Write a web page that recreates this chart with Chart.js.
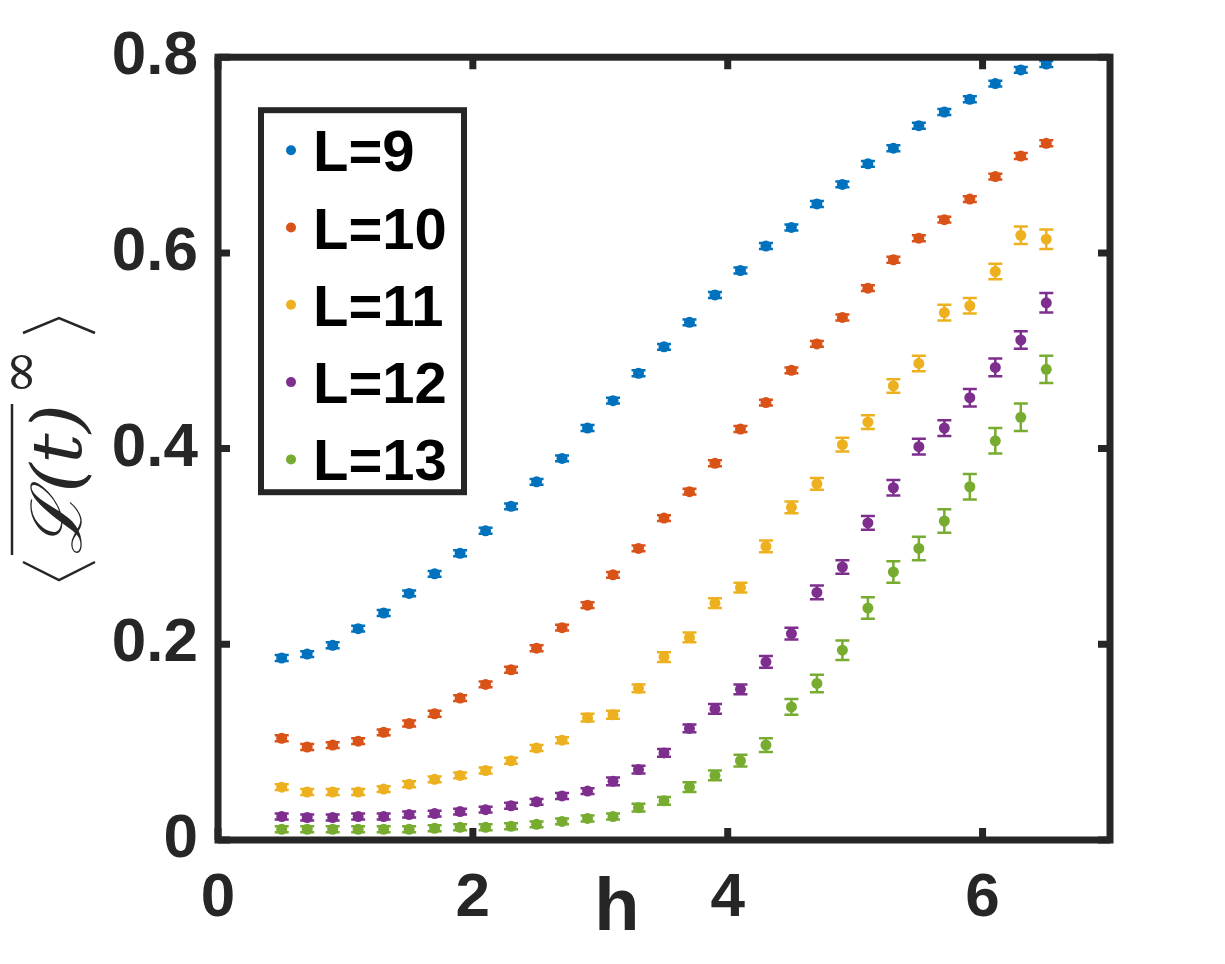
<!DOCTYPE html>
<html>
<head>
<meta charset="utf-8">
<script src="https://cdn.jsdelivr.net/npm/chart.js@4.4.1/dist/chart.umd.min.js"></script>
<style>
html, body { margin: 0; padding: 0; background: #fff; }
#wrap { width: 1225px; height: 964px; }
</style>
</head>
<body>
<div id="wrap"><canvas id="plot" width="1225" height="964"></canvas></div>
<script>
// h values (x axis)
const hValues = [0.5, 0.7, 0.9, 1.1, 1.3, 1.5, 1.7, 1.9, 2.1, 2.3, 2.5, 2.7, 2.9, 3.1, 3.3, 3.5,
                 3.7, 3.9, 4.1, 4.3, 4.5, 4.7, 4.9, 5.1, 5.3, 5.5, 5.7, 5.9, 6.1, 6.3, 6.5];

const seriesLabels = ["L=9", "L=10", "L=11", "L=12", "L=13"];
const seriesColors = ["#0072BD", "#D95319", "#EDB120", "#7E2F8E", "#77AC30"];

const valsL9  = [0.186, 0.190, 0.199, 0.216, 0.232, 0.252, 0.272, 0.293, 0.316, 0.341, 0.366, 0.390, 0.421, 0.449, 0.477, 0.504,
                 0.529, 0.557, 0.582, 0.607, 0.626, 0.650, 0.670, 0.691, 0.707, 0.730, 0.744, 0.757, 0.773, 0.787, 0.793];
const valsL10 = [0.104, 0.095, 0.097, 0.101, 0.110, 0.119, 0.129, 0.145, 0.159, 0.174, 0.196, 0.217, 0.240, 0.271, 0.298, 0.329,
                 0.356, 0.385, 0.420, 0.447, 0.480, 0.507, 0.534, 0.564, 0.593, 0.615, 0.634, 0.655, 0.678, 0.699, 0.712];
const valsL11 = [0.054, 0.049, 0.049, 0.049, 0.052, 0.057, 0.062, 0.066, 0.071, 0.081, 0.094, 0.102, 0.125, 0.128, 0.155, 0.187,
                 0.207, 0.242, 0.258, 0.300, 0.340, 0.364, 0.404, 0.427, 0.464, 0.487, 0.539, 0.546, 0.581, 0.618, 0.614];
const valsL12 = [0.024, 0.023, 0.023, 0.024, 0.024, 0.026, 0.027, 0.029, 0.031, 0.035, 0.039, 0.045, 0.050, 0.060, 0.072, 0.089,
                 0.114, 0.134, 0.154, 0.182, 0.211, 0.253, 0.279, 0.324, 0.360, 0.402, 0.421, 0.452, 0.483, 0.511, 0.549];
const valsL13 = [0.011, 0.011, 0.011, 0.011, 0.011, 0.011, 0.012, 0.013, 0.013, 0.014, 0.016, 0.019, 0.022, 0.024, 0.033, 0.040,
                 0.054, 0.066, 0.081, 0.097, 0.136, 0.160, 0.194, 0.237, 0.274, 0.298, 0.326, 0.361, 0.408, 0.432, 0.481];

// error bar half-heights
const errL9  = [0.003, 0.003, 0.003, 0.003, 0.003, 0.003, 0.003, 0.003, 0.003, 0.003, 0.003, 0.003, 0.003, 0.003, 0.003, 0.003,
                0.003, 0.003, 0.003, 0.003, 0.003, 0.003, 0.003, 0.003, 0.003, 0.003, 0.003, 0.003, 0.003, 0.003, 0.003];
const errL10 = [0.003, 0.003, 0.003, 0.003, 0.003, 0.003, 0.003, 0.003, 0.003, 0.003, 0.003, 0.003, 0.003, 0.003, 0.003, 0.003,
                0.003, 0.003, 0.003, 0.003, 0.003, 0.003, 0.003, 0.003, 0.003, 0.003, 0.003, 0.003, 0.003, 0.003, 0.003];
const errL11 = [0.003, 0.003, 0.003, 0.003, 0.003, 0.003, 0.003, 0.003, 0.003, 0.003, 0.003, 0.003, 0.004, 0.004, 0.004, 0.005,
                0.005, 0.005, 0.005, 0.006, 0.006, 0.006, 0.007, 0.007, 0.007, 0.008, 0.008, 0.008, 0.008, 0.009, 0.010];
const errL12 = [0.003, 0.003, 0.003, 0.003, 0.003, 0.003, 0.003, 0.003, 0.003, 0.003, 0.003, 0.003, 0.003, 0.004, 0.004, 0.004,
                0.004, 0.005, 0.005, 0.006, 0.006, 0.007, 0.007, 0.007, 0.008, 0.008, 0.008, 0.009, 0.009, 0.009, 0.010];
const errL13 = [0.003, 0.003, 0.003, 0.003, 0.003, 0.003, 0.003, 0.003, 0.003, 0.003, 0.003, 0.003, 0.003, 0.003, 0.004, 0.004,
                0.005, 0.005, 0.006, 0.007, 0.008, 0.009, 0.010, 0.011, 0.011, 0.012, 0.012, 0.013, 0.013, 0.014, 0.014];

const xTicks = [0, 2, 4, 6];
const yTicks = [0, 0.2, 0.4, 0.6, 0.8];

const seriesValues = [valsL9, valsL10, valsL11, valsL12, valsL13];
const seriesErrors = [errL9, errL10, errL11, errL12, errL13];

const axisColor = "#262626";
const sansFont = '"Liberation Sans", Arial, sans-serif';

const datasets = seriesLabels.map((lab, i) => ({
  label: lab,
  data: hValues.map((h, k) => ({ x: h, y: seriesValues[i][k], err: seriesErrors[i][k] })),
  backgroundColor: seriesColors[i],
  borderColor: seriesColors[i],
  borderWidth: 0,
  pointRadius: 5.5,
  pointHoverRadius: 5.5,
  showLine: false
}));

// vertical error bars with caps, drawn through the chart scales
const errorBars = {
  id: "errorBars",
  afterDatasetDraw(chart, args) {
    const ds = chart.data.datasets[args.index];
    const { ctx, scales: { x, y } } = chart;
    ctx.save();
    ctx.strokeStyle = ds.borderColor;
    ctx.lineWidth = 2.5;
    ds.data.forEach(p => {
      const px = x.getPixelForValue(p.x);
      const lo = y.getPixelForValue(p.y - p.err);
      const hi = y.getPixelForValue(p.y + p.err);
      ctx.beginPath();
      ctx.moveTo(px, lo); ctx.lineTo(px, hi);
      ctx.moveTo(px - 7, lo); ctx.lineTo(px + 7, lo);
      ctx.moveTo(px - 7, hi); ctx.lineTo(px + 7, hi);
      ctx.stroke();
    });
    ctx.restore();
  }
};

// box frame with inward ticks on all four sides
const frameBox = {
  id: "frameBox",
  afterDatasetsDraw(chart) {
    const { ctx, chartArea: a, scales: { x, y } } = chart;
    ctx.save();
    ctx.strokeStyle = axisColor;
    ctx.lineWidth = 7;
    ctx.strokeRect(a.left, a.top, a.right - a.left, a.bottom - a.top);
    ctx.beginPath();
    xTicks.forEach(v => {
      const px = x.getPixelForValue(v);
      ctx.moveTo(px, a.bottom); ctx.lineTo(px, a.bottom - 12);
      ctx.moveTo(px, a.top); ctx.lineTo(px, a.top + 12);
    });
    yTicks.forEach(v => {
      const py = y.getPixelForValue(v);
      ctx.moveTo(a.left, py); ctx.lineTo(a.left + 12, py);
      ctx.moveTo(a.right, py); ctx.lineTo(a.right - 12, py);
    });
    ctx.stroke();
    ctx.restore();
  }
};

// legend box in the upper-left of the plot
const legendBox = {
  id: "legendBox",
  afterDraw(chart) {
    const { ctx, chartArea } = chart;
    const left = chartArea.left + 43, top = chartArea.top + 53;
    ctx.save();
    ctx.fillStyle = "#fff";
    ctx.fillRect(left, top, 203, 382);
    ctx.strokeStyle = axisColor;
    ctx.lineWidth = 6;
    ctx.strokeRect(left, top, 203, 382);
    chart.data.datasets.forEach((ds, i) => {
      const cy = top + 40 + i * 77.3;
      ctx.fillStyle = ds.backgroundColor;
      ctx.beginPath();
      ctx.arc(left + 30, cy, 5, 0, 2 * Math.PI);
      ctx.fill();
      ctx.fillStyle = "#000";
      ctx.font = "bold 58px " + sansFont;
      ctx.textBaseline = "alphabetic";
      ctx.textAlign = "left";
      ctx.fillText(ds.label, left + 52, cy + 21);
    });
    ctx.restore();
  }
};

// axis titles: "h" sits between the 2 and 4 labels, y title is a rotated formula
const axisTitles = {
  id: "axisTitles",
  afterDraw(chart) {
    const { ctx, scales: { x } } = chart;
    ctx.save();
    ctx.fillStyle = axisColor;
    ctx.font = "bold 74px " + sansFont;
    ctx.textAlign = "center";
    ctx.textBaseline = "alphabetic";
    ctx.fillText("h", x.getPixelForValue(3.13), 930);

    ctx.translate(58, 449);
    ctx.rotate(-Math.PI / 2);
    ctx.strokeStyle = axisColor;
    ctx.lineWidth = 2.5;
    ctx.beginPath();
    ctx.moveTo(-113, -35); ctx.lineTo(-131, 1); ctx.lineTo(-113, 37);
    ctx.moveTo(116, -35); ctx.lineTo(131, 1); ctx.lineTo(116, 37);
    ctx.stroke();
    ctx.textAlign = "left";
    ctx.font = 'italic 70px "DejaVu Serif", serif';
    const txt = "\u2112(t)";
    const w = ctx.measureText(txt).width;
    ctx.save();
    ctx.translate(-106, 23);
    ctx.scale(151 / w, 1);
    ctx.fillText(txt, 0, 0);
    ctx.restore();
    ctx.beginPath();
    ctx.moveTo(-106, -46); ctx.lineTo(45, -46);
    ctx.stroke();
    ctx.font = '55px "DejaVu Serif", serif';
    ctx.fillText("\u221E", 54, -20);
    ctx.restore();
  }
};

new Chart(document.getElementById("plot"), {
  type: "scatter",
  data: { datasets: datasets },
  options: {
    responsive: false,
    animation: false,
    layout: { padding: { top: 55, right: 115, left: 0, bottom: 0 } },
    plugins: { legend: { display: false }, tooltip: { enabled: false } },
    scales: {
      x: {
        type: "linear",
        min: 0,
        max: 7,
        afterBuildTicks: s => { s.ticks = xTicks.map(v => ({ value: v })); },
        afterFit: s => { s.height = 124; },
        grid: { display: false, drawTicks: false },
        border: { display: false },
        ticks: {
          color: axisColor,
          padding: 22,
          maxRotation: 0,
          font: { family: sansFont, size: 62, weight: "bold" }
        }
      },
      y: {
        type: "linear",
        min: 0,
        max: 0.8,
        afterBuildTicks: s => { s.ticks = yTicks.map(v => ({ value: v })); },
        afterFit: s => { s.width = 218; },
        grid: { display: false, drawTicks: false },
        border: { display: false },
        ticks: {
          color: axisColor,
          padding: 20,
          callback: v => (v === 0 ? "0" : v.toFixed(1)),
          font: { family: sansFont, size: 62, weight: "bold" }
        }
      }
    }
  },
  plugins: [errorBars, frameBox, legendBox, axisTitles]
});
</script>
</body>
</html>
